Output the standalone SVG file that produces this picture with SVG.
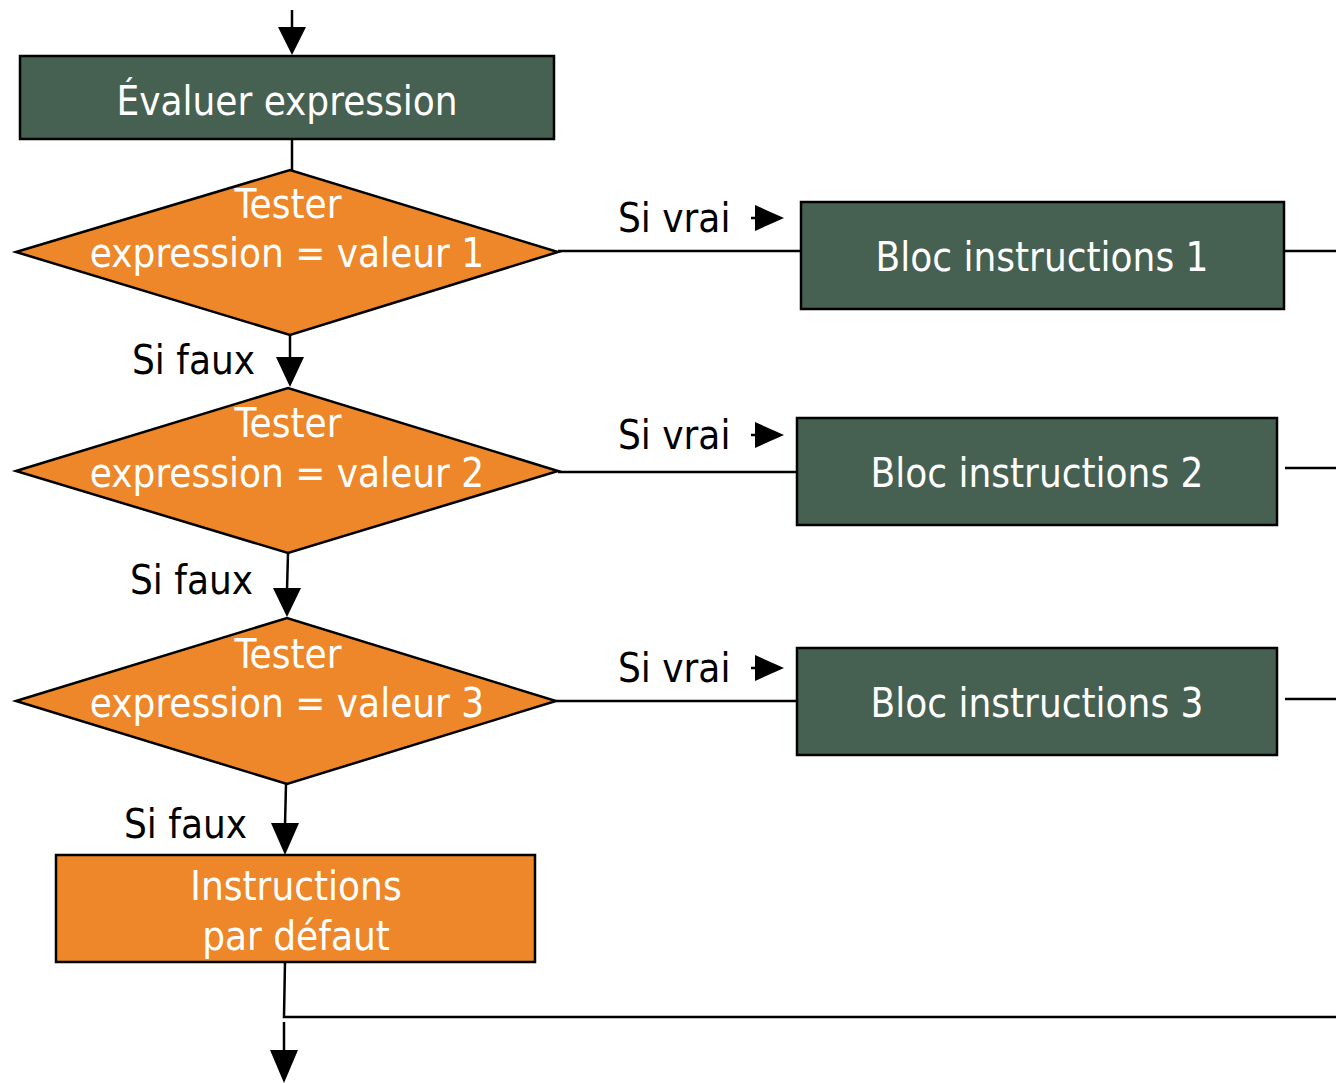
<svg xmlns="http://www.w3.org/2000/svg" width="1336" height="1083" viewBox="0 0 1336 1083">
<defs>
<style>
.g{fill:#466052;stroke:#000;stroke-width:2.5}
.o{fill:#ED8729;stroke:#000;stroke-width:2.5}
.l{fill:none;stroke:#000;stroke-width:2.5}
.w{fill:#fff;font-family:"DejaVu Sans Condensed","DejaVu Sans",sans-serif;font-size:40px;text-anchor:middle}
.b{fill:#000;font-family:"DejaVu Sans Condensed","DejaVu Sans",sans-serif;font-size:40px}
.h{fill:#000}
</style>
</defs>
<rect width="1336" height="1083" fill="#fff"/>
<g id="connectors">
<line class="l" x1="292" y1="10" x2="292" y2="30"/>
<polygon class="h" points="278,27 306,27 292,55"/>
<line class="l" x1="292" y1="139" x2="292" y2="170"/>
<line class="l" x1="558" y1="251" x2="801" y2="251"/>
<line class="l" x1="751" y1="218" x2="760" y2="218"/>
<polygon class="h" points="755,205 784,218 755,231"/>
<line class="l" x1="1284" y1="251" x2="1336" y2="251"/>
<line class="l" x1="290" y1="335" x2="290" y2="360"/>
<polygon class="h" points="276,357 304,357 290,387"/>
<line class="l" x1="558" y1="472" x2="797" y2="472"/>
<line class="l" x1="751" y1="435" x2="760" y2="435"/>
<polygon class="h" points="755,422 784,435 755,448"/>
<line class="l" x1="1285" y1="468" x2="1336" y2="468"/>
<line class="l" x1="288" y1="553" x2="287" y2="590"/>
<polygon class="h" points="273,588 301,588 287,617"/>
<line class="l" x1="556" y1="701" x2="797" y2="701"/>
<line class="l" x1="751" y1="668" x2="760" y2="668"/>
<polygon class="h" points="755,655 784,668 755,681"/>
<line class="l" x1="1285" y1="699" x2="1336" y2="699"/>
<line class="l" x1="286" y1="784" x2="285" y2="825"/>
<polygon class="h" points="271,823 299,823 285,855"/>
<polyline class="l" points="285,962 284,1017 1336,1017"/>
<line class="l" x1="284" y1="1022" x2="284" y2="1055"/>
<polygon class="h" points="270,1050 298,1050 284,1083"/>
</g>
<g id="n-eval">
<rect class="g" x="20" y="56" width="534" height="83"/>
<text class="w" x="287" y="115">Évaluer expression</text>
</g>
<g id="n-test1">
<polygon class="o" points="16,252 290,170 558,252 290,335"/>
<text class="w" x="288" y="218">Tester</text>
<text class="w" x="287" y="267">expression = valeur 1</text>
</g>
<g id="n-bloc1">
<rect class="g" x="801" y="202" width="483" height="107"/>
<text class="w" x="1042" y="271">Bloc instructions 1</text>
</g>
<g id="n-test2">
<polygon class="o" points="16,471 288,388 558,471 288,553"/>
<text class="w" x="288" y="437">Tester</text>
<text class="w" x="287" y="487">expression = valeur 2</text>
</g>
<g id="n-bloc2">
<rect class="g" x="797" y="418" width="480" height="107"/>
<text class="w" x="1037" y="487">Bloc instructions 2</text>
</g>
<g id="n-test3">
<polygon class="o" points="16,701 287,618 556,701 287,784"/>
<text class="w" x="288" y="668">Tester</text>
<text class="w" x="287" y="717">expression = valeur 3</text>
</g>
<g id="n-bloc3">
<rect class="g" x="797" y="648" width="480" height="107"/>
<text class="w" x="1037" y="717">Bloc instructions 3</text>
</g>
<g id="n-default">
<rect class="o" x="56" y="855" width="479" height="107"/>
<text class="w" x="296" y="900">Instructions</text>
<text class="w" x="296" y="950">par défaut</text>
</g>
<g id="labels">
<text class="b" x="618" y="232">Si vrai</text>
<text class="b" x="618" y="449">Si vrai</text>
<text class="b" x="618" y="682">Si vrai</text>
<text class="b" x="132" y="374">Si faux</text>
<text class="b" x="130" y="594">Si faux</text>
<text class="b" x="124" y="838">Si faux</text>
</g>
</svg>
